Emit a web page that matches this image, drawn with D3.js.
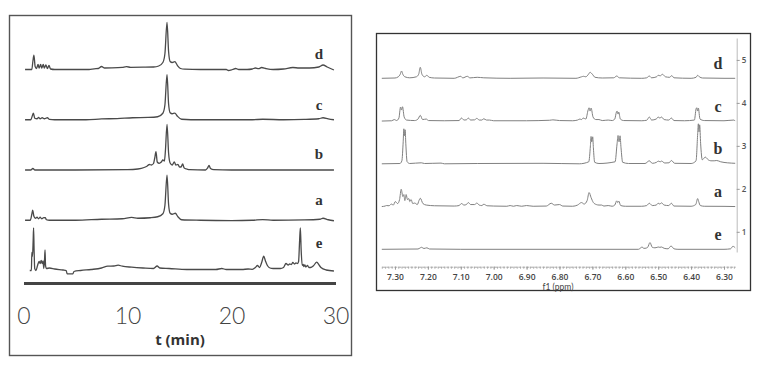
<!DOCTYPE html>
<html>
<head>
<meta charset="utf-8">
<script src="https://cdn.jsdelivr.net/npm/d3@7"></script>
<style>
	body { margin: 0; background: #fff; }
	svg { display: block; }
</style>
</head>
<body>
<svg id="chart" width="761" height="367"></svg>
<script>
// trace names, top to bottom
var traceNames = ["d", "c", "b", "a", "e"];

// HPLC chromatograms: [t (min), signal]
var hplcD = [[0.15,0],[0.8,0],[0.9,8],[1.0,14.3],[1.12,3],[1.25,1],[1.4,5],[1.5,1.5],[1.65,5],[1.75,1.5],[1.9,5],[2.0,1.5],[2.15,4.5],[2.3,1],[2.45,4],[2.6,0.5],[3,0],[5,0],[6.3,0],[6.8,0.7],[7.2,1],[7.5,3],[7.8,1.5],[8.5,1.6],[9.5,2.2],[9.9,2.8],[10.3,2.2],[11.5,2.3],[12.5,2.5],[13.0,3.5],[13.4,7],[13.6,16],[13.8,47],[13.95,18],[14.1,8],[14.3,7],[14.55,7.8],[14.8,4],[15.1,1],[15.5,0.3],[17,0],[19.5,0],[19.7,-1],[20.1,0],[20.4,1],[20.7,0],[21.5,0],[22.0,0.5],[22.3,1.5],[22.6,0.8],[22.9,2],[23.3,1],[24,0],[25,0.5],[25.9,2],[26.5,1.5],[27.5,1.5],[28.4,2.5],[28.8,4.5],[29.2,2.5],[29.85,-0.5]];
var hplcC = [[0.15,0],[0.7,0],[0.85,4],[0.95,6.7],[1.08,1.5],[1.3,1],[1.45,2.3],[1.6,1],[1.8,2],[2.0,1],[2.3,2],[2.5,0.3],[3,0],[6,0],[7.5,0.8],[9,1.2],[10.5,2],[12,2.3],[12.9,3],[13.4,6.5],[13.6,15],[13.8,45],[13.95,16],[14.1,7],[14.3,6],[14.55,6.7],[14.8,3.5],[15.2,0.5],[17,0],[22,0],[23,0.5],[25,0],[27,0.3],[28.4,1],[28.8,2],[29.3,0.8],[29.85,0]];
var hplcB = [[0.15,0],[0.7,0],[0.9,1.5],[1.1,0],[5,0],[10,0.3],[11,1],[11.6,2.5],[11.9,4],[12.1,5.5],[12.3,5],[12.5,6.5],[12.62,12],[12.74,18.3],[12.86,8],[13.05,6.7],[13.25,8],[13.4,10],[13.55,9],[13.65,20],[13.8,45.7],[13.95,17],[14.1,7],[14.3,5],[14.5,8],[14.65,5],[14.85,5.5],[15.0,3],[15.15,3],[15.3,6],[15.45,2],[15.7,1],[16,0.3],[17.5,0],[17.7,2],[17.84,4.5],[17.98,1.5],[18.3,0.3],[20,0],[29.85,0]];
var hplcA = [[0.15,0],[0.65,0],[0.8,6],[0.88,10],[1.0,4],[1.15,2],[1.3,3],[1.45,1.5],[1.6,3],[1.75,1.5],[1.95,2.7],[2.1,2.5],[2.2,0.5],[2.5,0],[5,0],[7.5,1],[9.5,1.5],[10.4,2.8],[11,2],[12.2,2.5],[12.9,3.5],[13.4,6.5],[13.6,15],[13.8,45],[13.95,16],[14.1,7],[14.3,6],[14.6,7],[14.85,3.5],[15.2,0.5],[17,0],[20,-0.3],[22,0],[23,0.7],[24,0],[27,0.3],[28.5,1],[28.8,2],[29.3,0.5],[29.85,-0.5]];
var hplcE = [[0.6,0],[0.76,0],[0.8,18],[0.86,14],[0.93,30],[0.97,42.7],[1.02,20],[1.08,2],[1.2,0],[1.35,5],[1.5,9],[1.6,7],[1.7,10],[1.8,7],[1.88,9.5],[1.95,2],[2.02,10],[2.07,20.7],[2.12,5],[2.2,2],[2.5,2.5],[3.0,1.5],[3.8,0.5],[4.1,0],[4.2,-3.3],[4.75,-3.3],[4.85,-1],[5.5,0],[6.5,1],[7.5,2.5],[8.1,4.3],[8.7,4.5],[9.1,5.3],[9.5,4.3],[10.4,3.3],[11.5,2.5],[12.5,2],[12.85,4.5],[13.1,2.5],[14,2],[15.7,1],[17,1],[18.5,1],[19.06,2],[19.5,1],[21,1],[21.6,1.5],[22.0,1.2],[22.3,3],[22.5,5],[22.7,3],[22.9,8],[23.1,14.3],[23.25,10],[23.45,5],[23.7,2.5],[24,2],[24.7,2],[25.0,3],[25.24,7],[25.45,5.5],[25.6,6.5],[25.75,6],[25.9,8],[26.05,6.5],[26.2,7.5],[26.35,7],[26.45,9],[26.55,30],[26.62,42.7],[26.7,20],[26.8,5],[26.9,6],[26.96,4],[27.05,5.5],[27.15,3.5],[27.3,5],[27.45,3],[27.6,3],[27.9,5],[28.19,8.3],[28.45,5],[28.6,3],[29.1,0.5],[29.85,-0.5]];
var hplcTicks = [0, 10, 20, 30];

// 1H NMR spectra: [ppm, intensity]
var nmrD = [[7.34,0],[7.30,0.3],[7.29,1.5],[7.284,4],[7.28,7.3],[7.276,4],[7.27,1.5],[7.255,0.5],[7.235,1.5],[7.228,4],[7.223,11],[7.218,4],[7.21,1.5],[7.203,3],[7.196,1],[7.18,0.3],[7.12,0],[7.1,2],[7.094,0.4],[7.08,2],[7.072,0.4],[7.05,1],[7.03,0.5],[6.95,0],[6.85,0.3],[6.75,0],[6.733,1.5],[6.727,2],[6.72,1.5],[6.712,4],[6.707,6],[6.7,4],[6.692,1],[6.67,0.3],[6.635,0.5],[6.626,2.3],[6.618,0.5],[6.55,0],[6.535,0.5],[6.527,2.3],[6.52,0.5],[6.505,1.5],[6.5,3],[6.494,2.5],[6.487,4],[6.478,1.5],[6.465,1],[6.459,2.7],[6.452,0.5],[6.40,0],[6.385,1],[6.38,3],[6.375,1.5],[6.365,0.3],[6.3,0],[6.266,0]];
var nmrC = [[7.34,0],[7.31,0.3],[7.302,1.5],[7.295,0.5],[7.288,3],[7.283,14],[7.28,11],[7.277,14.3],[7.272,4],[7.265,1],[7.24,0.5],[7.23,2],[7.223,5.7],[7.216,1.5],[7.205,2],[7.198,0.5],[7.15,0.3],[7.105,0.5],[7.098,3],[7.09,1],[7.083,1.2],[7.077,3],[7.07,1],[7.058,1.2],[7.051,2.7],[7.044,1],[7.036,1],[7.03,2.3],[7.022,1],[7.013,1],[7.0,0.3],[6.9,0.3],[6.83,0.8],[6.82,1.2],[6.80,0.5],[6.76,0.3],[6.745,1],[6.738,2],[6.733,1.5],[6.728,3],[6.72,2],[6.713,11],[6.71,13.3],[6.707,10],[6.704,13],[6.698,4],[6.69,1.5],[6.68,1.5],[6.67,0.5],[6.652,1],[6.64,0.5],[6.632,2],[6.627,9],[6.625,10],[6.622,7],[6.62,9],[6.615,2],[6.605,0.5],[6.55,0.3],[6.535,0.8],[6.527,4],[6.52,1],[6.506,2],[6.5,4],[6.495,3],[6.49,4],[6.482,1.5],[6.468,1],[6.46,3],[6.452,0.5],[6.42,0.3],[6.39,1],[6.385,12],[6.383,13.3],[6.38,10],[6.378,13],[6.373,2],[6.36,0.5],[6.3,0.3],[6.27,1],[6.266,0]];
var nmrB = [[7.34,0],[7.285,0.3],[7.279,3],[7.275,22],[7.273,35],[7.271,28],[7.269,34],[7.267,20],[7.263,2],[7.255,0.3],[7.22,1],[7.21,0.3],[7.16,0.7],[7.15,0],[7.05,0.3],[6.85,0.5],[6.74,0],[6.711,2],[6.706,18],[6.704,27.3],[6.702,22],[6.699,27],[6.697,16],[6.693,1.5],[6.68,0.3],[6.631,2],[6.625,20],[6.622,28.3],[6.619,22],[6.616,28],[6.613,16],[6.608,1.5],[6.59,0.3],[6.54,0.3],[6.527,3],[6.518,0.5],[6.505,1.5],[6.5,2.7],[6.494,2],[6.49,2.7],[6.48,0.8],[6.467,1],[6.46,3.3],[6.45,0.5],[6.4,0.3],[6.385,3],[6.38,30],[6.378,40],[6.376,32],[6.374,39],[6.371,20],[6.366,4],[6.357,6.7],[6.348,4],[6.34,3],[6.33,3],[6.322,3.3],[6.31,2],[6.29,1],[6.266,0.5]];
var nmrA = [[7.34,0],[7.33,0.5],[7.326,1],[7.318,0.8],[7.311,2.5],[7.305,1.5],[7.299,5],[7.292,3],[7.286,7],[7.281,17.3],[7.276,10],[7.273,12],[7.27,6],[7.266,12],[7.262,7],[7.258,8],[7.255,5],[7.251,7],[7.246,3],[7.24,3.5],[7.232,2],[7.227,6],[7.223,8.3],[7.215,3],[7.205,1.5],[7.18,0.8],[7.12,0.5],[7.105,1],[7.098,3],[7.09,1.5],[7.083,2],[7.077,4],[7.07,2],[7.058,2],[7.051,3.5],[7.044,1.5],[7.036,1],[7.03,2.3],[7.02,0.8],[7.0,0.5],[6.96,0.3],[6.95,1],[6.94,0.3],[6.93,1],[6.915,0.3],[6.90,1],[6.88,0.3],[6.84,0.5],[6.825,3.3],[6.815,1.5],[6.80,2],[6.79,0.5],[6.76,0.3],[6.745,1.5],[6.733,4],[6.725,2.5],[6.716,6],[6.71,14],[6.704,9],[6.697,4],[6.688,2],[6.68,1.5],[6.672,1.5],[6.665,0.5],[6.652,1],[6.64,0.3],[6.632,1.5],[6.626,5.7],[6.623,4],[6.62,5.5],[6.614,1],[6.6,0.3],[6.55,0.3],[6.535,1],[6.527,3.3],[6.518,1],[6.506,1.5],[6.5,3.3],[6.495,2.5],[6.49,3.7],[6.482,1.5],[6.468,1],[6.46,3.3],[6.452,0.5],[6.4,0.3],[6.386,2],[6.38,8],[6.377,5],[6.372,1],[6.36,0.3],[6.3,0.2],[6.266,0]];
var nmrE = [[7.34,0],[7.23,0.3],[7.223,1.5],[7.219,2],[7.212,0.8],[7.203,1.5],[7.195,0.3],[7.1,0],[6.56,0],[6.553,1.5],[6.549,2.3],[6.544,1],[6.54,1],[6.532,2],[6.525,6.7],[6.518,2],[6.51,1.5],[6.503,2],[6.5,2.3],[6.495,2],[6.49,2.3],[6.482,1],[6.47,0.5],[6.461,3.3],[6.452,0.5],[6.44,0],[6.3,0],[6.28,0.5],[6.273,3],[6.266,1.5]];
var nmrTicks = [7.30, 7.20, 7.10, 7.00, 6.90, 6.80, 6.70, 6.60, 6.50, 6.40, 6.30];
var nmrIndex = [1, 2, 3, 4, 5];

var hplc = {d: hplcD, c: hplcC, b: hplcB, a: hplcA, e: hplcE};
var nmr = {d: nmrD, c: nmrC, b: nmrB, a: nmrA, e: nmrE};

var svg = d3.select("#chart");

// ---------- left panel: chromatograms ----------
svg.append("rect")
	.attr("x", 9.5).attr("y", 15.5)
	.attr("width", 342).attr("height", 340)
	.attr("fill", "none").attr("stroke", "#555").attr("stroke-width", 1.4);

var tScale = d3.scaleLinear().domain([0, 30]).range([23.5, 335.5]);
var hBase = d3.scalePoint().domain(traceNames).range([69.5, 270.5]);
var hAmp = d3.scaleLinear().domain([0, 1]).range([0, 1]); // 1 signal unit = 1px
var labelLift = {d: 16, c: 15, b: 16, a: 21, e: 28};

traceNames.forEach(function(name) {
	var line = d3.line()
		.x(function(p) { return tScale(p[0]); })
		.y(function(p) { return hBase(name) - hAmp(p[1]); })
		.curve(d3.curveMonotoneX);
	svg.append("path")
		.attr("d", line(hplc[name]))
		.attr("fill", "none")
		.attr("stroke", "#4a4a4a")
		.attr("stroke-width", 1.3)
		.attr("stroke-linejoin", "round");
	svg.append("text")
		.attr("x", 319).attr("y", hBase(name) - labelLift[name])
		.attr("dy", "0.35em")
		.attr("text-anchor", "middle")
		.style("font-family", "'Liberation Serif', 'Times New Roman', serif")
		.style("font-weight", "bold")
		.style("font-size", "15px")
		.style("fill", "#333")
		.text(name);
});

var tAxis = svg.append("g")
	.attr("transform", "translate(0,283)")
	.call(d3.axisBottom(tScale).tickValues(hplcTicks).tickSize(0).tickSizeOuter(0).tickPadding(24.5));
tAxis.select(".domain").attr("stroke", "#444").attr("stroke-width", 3);
tAxis.selectAll("text")
	.style("font-family", "Lato, 'Open Sans', sans-serif")
	.style("font-weight", "300")
	.style("font-size", "23px")
	.style("fill", "#444");

svg.append("text")
	.attr("x", 180).attr("y", 345)
	.attr("text-anchor", "middle")
	.style("font-family", "'Open Sans', Lato, sans-serif")
	.style("font-weight", "bold")
	.style("font-size", "15px")
	.style("fill", "#333")
	.text("t (min)");

// ---------- right panel: NMR ----------
svg.append("rect")
	.attr("x", 376.5).attr("y", 33.5)
	.attr("width", 374).attr("height", 257)
	.attr("fill", "none").attr("stroke", "#333").attr("stroke-width", 1.3);

var ppm = d3.scaleLinear().domain([7.34, 6.266]).range([381.8, 735.2]);
var nBase = d3.scalePoint().domain(traceNames).range([78.3, 249.3]);

traceNames.forEach(function(name) {
	var line = d3.line()
		.x(function(p) { return ppm(p[0]); })
		.y(function(p) { return nBase(name) - p[1]; })
		.curve(d3.curveMonotoneX);
	svg.append("path")
		.attr("d", line(nmr[name]))
		.attr("fill", "none")
		.attr("stroke", "#808080")
		.attr("stroke-width", 1)
		.attr("stroke-linejoin", "round");
	svg.append("text")
		.attr("x", 718).attr("y", nBase(name) - 15)
		.attr("dy", "0.35em")
		.attr("text-anchor", "middle")
		.style("font-family", "'Liberation Serif', 'Times New Roman', serif")
		.style("font-weight", "bold")
		.style("font-size", "16px")
		.style("fill", "#333")
		.text(name);
});

// minor ticks on ppm axis
var ppmMinor = svg.append("g")
	.attr("transform", "translate(0,266.7)")
	.call(d3.axisBottom(ppm).ticks(110).tickSize(2).tickSizeOuter(0).tickFormat(""));
ppmMinor.select(".domain").attr("stroke", "#aaa").attr("stroke-dasharray", "3,1");
ppmMinor.selectAll(".tick line").attr("stroke", "#aaa");

var ppmAxis = svg.append("g")
	.attr("transform", "translate(0,266.7)")
	.call(d3.axisBottom(ppm).tickValues(nmrTicks).tickSize(3).tickPadding(4).tickFormat(d3.format(".2f")));
ppmAxis.select(".domain").remove();
ppmAxis.selectAll(".tick line").attr("stroke", "#999");
ppmAxis.selectAll("text")
	.style("font-family", "'Open Sans', Lato, sans-serif")
	.style("font-weight", "600")
	.style("font-size", "8.5px")
	.style("fill", "#444");

svg.append("text")
	.attr("x", 558).attr("y", 290.3)
	.attr("text-anchor", "middle")
	.style("font-family", "Lato, 'Open Sans', sans-serif")
	.style("font-size", "8.5px")
	.style("fill", "#444")
	.text("f1 (ppm)");

// stacked spectrum index axis
var idx = d3.scaleLinear().domain([0.53, 5.51]).range([252, 38]);
var idxAxis = svg.append("g")
	.attr("transform", "translate(736.7,0)")
	.call(d3.axisRight(idx).tickValues(nmrIndex).tickSize(3).tickSizeOuter(0).tickPadding(2).tickFormat(d3.format("d")));
idxAxis.select(".domain").attr("stroke", "#bbb");
idxAxis.selectAll(".tick line").attr("stroke", "#999");
idxAxis.selectAll("text")
	.style("font-family", "'Open Sans', Lato, sans-serif")
	.style("font-weight", "600")
	.style("font-size", "8px")
	.style("fill", "#555");
</script>
</body>
</html>
